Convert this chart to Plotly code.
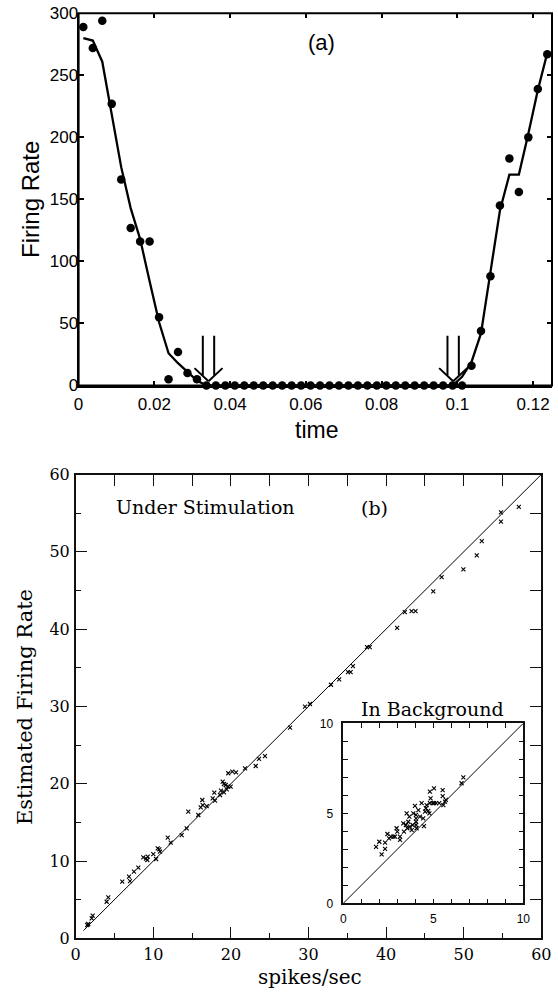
import plotly.graph_objects as go

# ---------------- Panel (a) data ----------------
t_obs = [0.00125 + 0.0025 * k for k in range(50)]
rate_obs = [289, 272, 294, 227, 166, 127, 116, 116, 55, 5, 27, 10, 5,
            0, 0, 0, 0, 0, 0, 0, 0, 0, 0, 0, 0, 0, 0, 0, 0, 0, 0, 0, 0, 0, 0, 0, 0, 0, 0, 0, 0,
            16, 44, 88, 145, 183, 156, 200, 239, 267]
rate_fit = [280, 278, 261, 218, 176, 143, 118, 84, 51, 26, 18, 11, 4,
            0, 0, 0, 0, 0, 0, 0, 0, 0, 0, 0, 0, 0, 0, 0, 0, 0, 0, 0, 0, 0, 0, 0, 0, 0, 0, 0,
            7, 19, 42, 93, 141, 170, 170, 203, 238, 268]
arrow_tips = [0.0343, 0.0989]   # switching times marked by double arrows
x_range_a = [0, 0.125]
y_range_a = [0, 300]
x_ticks_a = [0, 0.02, 0.04, 0.06, 0.08, 0.1, 0.12]
x_ticktext_a = ["0", "0.02", "0.04", "0.06", "0.08", "0.1", "0.12"]
y_ticks_a = [0, 50, 100, 150, 200, 250, 300]

# ---------------- Panel (b) data ----------------
stim_true = [1.49, 1.62, 2.06, 2.19, 3.99, 4.2, 6.0, 6.87, 7.0, 7.51, 8.07, 8.71, 9.06, 9.28, 9.23,
             10.0, 10.35, 10.57, 10.77, 10.86, 11.86, 12.24, 13.66, 14.3, 14.51, 15.8, 16.11, 16.31,
             16.37, 16.88, 17.65, 17.86, 17.95, 18.6, 18.72, 19.11, 18.94, 19.11, 19.33, 19.46,
             19.66, 19.97, 19.66, 20.18, 20.66, 21.82, 23.2, 23.62, 24.39, 27.62, 29.55, 30.19,
             32.9, 33.95, 35.09, 35.43, 35.73, 37.54, 37.89, 41.42, 42.41, 43.28, 43.79, 46.08,
             47.16, 49.96, 51.68, 52.33, 54.8, 54.8, 57.1]
stim_est = [1.72, 1.85, 2.59, 2.92, 4.73, 5.3, 7.32, 7.97, 7.41, 8.62, 9.13, 10.48, 10.3, 10.56, 10.13,
            10.9, 10.26, 11.64, 11.51, 11.2, 13.01, 12.37, 13.36, 14.23, 16.38, 15.95, 16.95, 17.89,
            17.24, 17.11, 18.11, 18.84, 17.8, 18.54, 19.09, 18.89, 20.26, 19.96, 19.83, 19.28,
            19.61, 19.61, 21.35, 21.55, 21.47, 21.99, 22.29, 23.2, 23.58, 27.24, 29.96, 30.31,
            32.8, 33.5, 34.44, 34.44, 35.22, 37.67, 37.67, 40.17, 42.2, 42.33, 42.33, 44.87,
            46.72, 47.72, 49.53, 51.38, 53.9, 55.1, 55.8]
bg_true = [1.82, 2.0, 2.13, 2.32, 2.32, 2.45, 2.54, 2.65, 2.78, 2.87, 2.96, 3.0, 3.15, 3.15, 3.33,
           3.37, 3.48, 3.52, 3.56, 3.61, 3.67, 3.7, 3.8, 3.85, 3.89, 3.98, 4.04, 4.04, 4.04, 4.04,
           4.07, 4.17, 4.26, 4.35, 4.44, 4.48, 4.54, 4.59, 4.63, 4.72, 4.78, 4.81, 4.81, 4.85,
           4.96, 5.04, 5.04, 5.15, 5.33, 5.52, 5.52, 5.56, 5.65, 5.7, 6.57, 6.67]
bg_est = [3.14, 3.42, 2.72, 3.37, 3.02, 3.85, 3.61, 3.7, 3.7, 3.7, 4.17, 3.98, 3.7, 3.52, 4.44,
          3.98, 4.35, 5.0, 4.17, 4.53, 4.81, 4.26, 4.07, 4.35, 5.0, 5.41, 4.91, 4.72, 4.53, 4.35,
          4.17, 5.18, 4.81, 5.56, 4.72, 4.29, 5.09, 5.28, 5.46, 5.14, 5.0, 5.56, 6.2, 5.83,
          5.56, 6.39, 5.56, 5.56, 5.56, 6.29, 5.96, 5.46, 5.65, 5.74, 6.67, 7.0]
main_range = [0, 60]
main_diag = [1, 60]
inset_range = [0, 10]
inset_diag = [0, 10]

W, H = 558, 992
def px(x): return x / W
def py(y): return 1 - y / H

SANS = "Liberation Sans, Arial, sans-serif"
SERIF = "DejaVu Serif, serif"
INK = "#111111"

fig = go.Figure()

# Panel (a)
fig.add_trace(go.Scatter(x=t_obs, y=rate_fit, mode="lines", line=dict(color="black", width=2.3),
                         xaxis="x", yaxis="y", showlegend=False, hoverinfo="skip"))
fig.add_trace(go.Scatter(x=t_obs, y=rate_obs, mode="markers", marker=dict(color="black", size=8.5),
                         xaxis="x", yaxis="y", showlegend=False, cliponaxis=False))

# Panel (b) main
fig.add_trace(go.Scatter(x=main_diag, y=main_diag, mode="lines", line=dict(color="black", width=1),
                         xaxis="x2", yaxis="y2", showlegend=False, hoverinfo="skip"))
fig.add_trace(go.Scatter(x=stim_true, y=stim_est, mode="markers",
                         marker=dict(symbol="x-thin", size=4, line=dict(width=1.1, color="black")),
                         xaxis="x2", yaxis="y2", showlegend=False))
# Inset
fig.add_trace(go.Scatter(x=inset_diag, y=inset_diag, mode="lines", line=dict(color="black", width=1),
                         xaxis="x3", yaxis="y3", showlegend=False, hoverinfo="skip"))
fig.add_trace(go.Scatter(x=bg_true, y=bg_est, mode="markers",
                         marker=dict(symbol="x-thin", size=4, line=dict(width=1.1, color="black")),
                         xaxis="x3", yaxis="y3", showlegend=False))
# overlay-axis carriers for the top/right tick rows
fig.add_trace(go.Scatter(x=[None], y=[None], xaxis="x4", yaxis="y4", showlegend=False, hoverinfo="skip"))
fig.add_trace(go.Scatter(x=[None], y=[None], xaxis="x5", yaxis="y5", showlegend=False, hoverinfo="skip"))

# frame of panel (a) and arrows
shapes = [dict(type="rect", xref="x domain", yref="y domain", x0=0, x1=1, y0=0, y1=1,
               line=dict(color="black", width=2), fillcolor="rgba(0,0,0,0)", layer="above")]
for tip in arrow_tips:
    for dx in (-0.0015, 0.0015):
        shapes.append(dict(type="line", xref="x", yref="y", x0=tip + dx, x1=tip + dx, y0=40, y1=8,
                           line=dict(color="black", width=2)))
    shapes.append(dict(type="line", xref="x", yref="y", x0=tip - 0.0037, x1=tip, y0=14, y1=3.5,
                       line=dict(color="black", width=2)))
    shapes.append(dict(type="line", xref="x", yref="y", x0=tip, x1=tip + 0.0037, y0=3.5, y1=14,
                       line=dict(color="black", width=2)))

axa = dict(showline=True, linecolor="black", linewidth=2, mirror=False, ticks="inside",
           ticklen=5, tickwidth=1.5, tickcolor="black", showgrid=False, zeroline=False,
           automargin=False, tickfont=dict(family=SANS, size=17, color="black"))
axb = dict(showline=True, linecolor=INK, linewidth=1.5, mirror=True, ticks="inside",
           ticklen=12, tickwidth=1.3, tickcolor=INK, showgrid=False, zeroline=False,
           automargin=False, tickfont=dict(family=SERIF, size=16, color="black"),
           minor=dict(ticks="inside", ticklen=6, dtick=5, tickwidth=1.3, tickcolor=INK, showgrid=False))
axc = dict(showline=True, linecolor=INK, linewidth=1.5, mirror="ticks", ticks="inside",
           ticklen=5, tickwidth=1.2, tickcolor=INK, showgrid=False, zeroline=False,
           automargin=False, tickfont=dict(family=SANS, size=12, color="black"),
           tickvals=list(range(11)),
           ticktext=["0", "", "", "", "", "5", "", "", "", "", "10"])
axo = dict(ticks="inside", ticklen=11, tickwidth=1.3, tickcolor=INK, showticklabels=False,
           showline=False, showgrid=False, zeroline=False, automargin=False)
axo_a = dict(axo, ticklen=5, tickwidth=1.5, tickcolor="black")

fig.update_layout(
    width=W, height=H, margin=dict(l=0, r=0, t=0, b=0, autoexpand=False),
    paper_bgcolor="white", plot_bgcolor="rgba(0,0,0,0)",
    xaxis=dict(axa, domain=[px(78.6), px(552)], range=x_range_a, anchor="y",
               tickvals=x_ticks_a, ticktext=x_ticktext_a, ticklabelstandoff=2),
    yaxis=dict(axa, domain=[py(385.5), py(13.3)], range=y_range_a, anchor="x",
               tickvals=y_ticks_a, ticklabelstandoff=-5),
    xaxis5=dict(axo_a, overlaying="x", side="top", anchor="y", range=x_range_a, tickvals=x_ticks_a),
    yaxis5=dict(axo_a, overlaying="y", side="right", anchor="x", range=y_range_a, tickvals=y_ticks_a),
    xaxis2=dict(axb, domain=[px(75.7), px(541.3)], range=main_range, anchor="y2", dtick=10,
                ticklabelstandoff=1),
    yaxis2=dict(axb, domain=[py(938.3), py(474.5)], range=main_range, anchor="x2", dtick=10,
                ticklabelstandoff=1),
    xaxis4=dict(axo, overlaying="x2", side="top", anchor="y2", range=main_range, dtick=5),
    yaxis4=dict(axo, overlaying="y2", side="right", anchor="x2", range=main_range, dtick=5),
    xaxis3=dict(axc, domain=[px(343.3), px(523.3)], range=inset_range, anchor="y3",
                ticklabelstandoff=4),
    yaxis3=dict(axc, domain=[py(903.3), py(723.3)], range=inset_range, anchor="x3",
                ticklabelstandoff=6),
    shapes=shapes,
)

def note(text, x, y, family, size, angle=0):
    fig.add_annotation(text=text, x=px(x), y=py(y), xref="paper", yref="paper",
                       xanchor="center", yanchor="middle", showarrow=False, textangle=angle,
                       font=dict(family=family, size=size, color="black"))

note("(a)", 321, 42, SANS, 22)
note("Firing Rate", 30, 200, SANS, 24, -90)
note("time", 316, 430, SANS, 23)
note("Under Stimulation", 205, 507, SERIF, 19)
note("(b)", 374, 508, SERIF, 19)
note("Estimated Firing Rate", 25, 707, SERIF, 21, -90)
note("spikes/sec", 310, 977, SERIF, 20)
note("In Background", 432, 709, SERIF, 19)

fig.write_html("out.html", config={"displayModeBar": False},
               post_script="document.body.style.margin='0';document.body.style.overflow='hidden';")
